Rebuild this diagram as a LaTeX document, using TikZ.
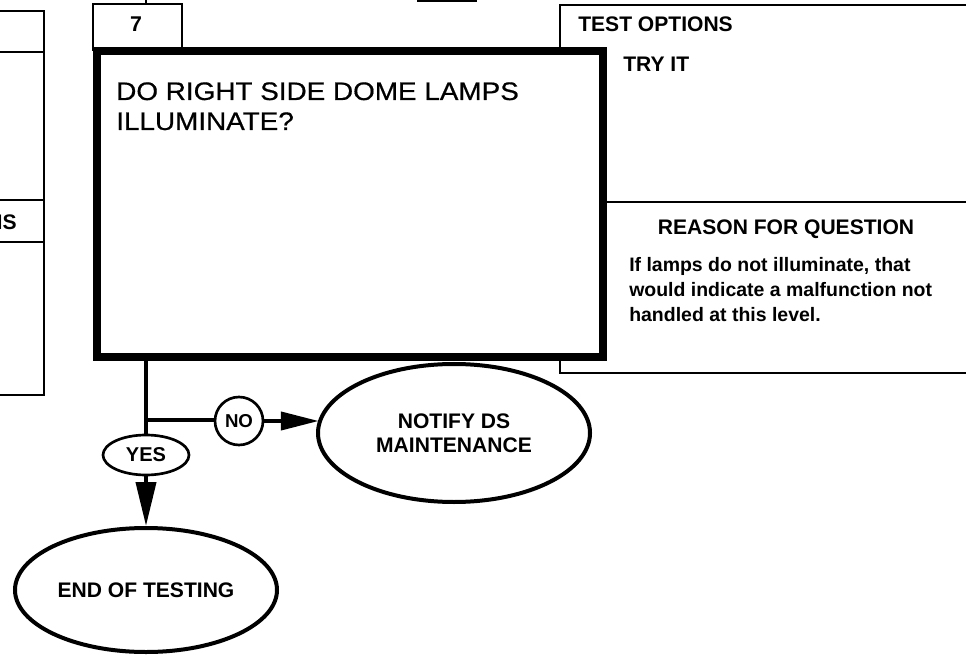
\documentclass[tikz,border=0pt]{standalone}
\usepackage{fontspec}
\setmainfont{Liberation Sans}
\newfontfamily\qfont[FakeStretch=1.1,FakeBold=0.6]{Liberation Sans}
\usetikzlibrary{shapes.geometric,arrows.meta}
\begin{document}
\begin{tikzpicture}[x=0.75pt,y=-0.75pt,
  box/.style={line width=1.8pt},
  conn/.style={line width=3pt},
  lbl/.style={font=\fontsize{15.8}{19}\selectfont\bfseries, inner sep=0pt},
  body/.style={font=\fontsize{14.6}{18}\selectfont\bfseries, inner sep=0pt, anchor=base west},
  qtext/.style={font=\qfont\fontsize{19}{22}\selectfont, inner sep=0pt, anchor=base west},
  oval/.style={ellipse, draw, fill=white, inner sep=0pt, align=center}]
\useasboundingbox (0,0) rectangle (966,655);
\begin{scope}
\clip (0,0) rectangle (966,655);
% left partial box
\draw[box] (-20,11) rectangle (44,395);
\draw[box] (-20,52) -- (44,52);
\draw[box] (-20,200) -- (44,200);
\draw[box] (-20,242) -- (44,242);
\node[lbl, anchor=base east] (lh) at (17,230) {NS};
% fragment at top
\draw[line width=2pt] (417,1) -- (477,1);
% right box
\draw[box] (560,5) rectangle (990,373);
\draw[box] (603,202) -- (990,202);
\node[lbl, anchor=base west] (to) at (578,32) {TEST OPTIONS};
\node[lbl, anchor=base west] (try) at (623,72) {TRY IT};
\node[lbl, anchor=base] (rq) at (786,235) {REASON FOR QUESTION};
\node[body] (b1) at (629,272) {If lamps do not illuminate, that};
\node[body] (b2) at (629,297) {would indicate a malfunction not};
\node[body] (b3) at (629,322) {handled at this level.};
% header 7
\node[draw, box, minimum width=66.75pt, minimum height=34.5pt, inner sep=0pt] (h7) at (137.5,27) {};
\node[lbl, anchor=base, font=\fontsize{16}{19}\selectfont\bfseries] (n7) at (136,32) {7};
\coordinate (top) at (146,-5);
\draw[box] (top) -- (top |- h7.north);
% main question box
\node[draw, line width=6pt, fill=white, minimum width=379.5pt, minimum height=229.5pt, inner sep=0pt] (q) at (350,204) {};
\node[qtext] (q1) at (116,100) {DO RIGHT SIDE DOME LAMPS};
\node[qtext] (q2) at (116,130) {ILLUMINATE?};
% ovals
\node[oval, line width=2pt, minimum width=64.5pt, minimum height=30pt, font=\fontsize{15}{18}\selectfont\bfseries] (yes) at (146,455) {YES};
\node[oval, line width=2pt, minimum width=36pt, minimum height=36pt, font=\fontsize{14}{17}\selectfont\bfseries] (no) at (239,421) {NO};
\node[oval, line width=3pt, minimum width=204pt, minimum height=103.5pt, font=\fontsize{15.8}{18}\selectfont\bfseries] (notify) at (454,433) {NOTIFY DS\\MAINTENANCE};
\node[oval, line width=3pt, minimum width=196.5pt, minimum height=93pt, font=\fontsize{15.8}{19}\selectfont\bfseries] (end) at (146,590) {END OF TESTING};
% connectors
\coordinate (br) at (146,420);
\draw[conn] (q.south -| yes.north) -- (yes.north);
\draw[conn] (br) -- (br -| no.west);
\draw[conn, -{Triangle[length=28.5pt,width=13.5pt]}] (no.east) -- (no.east -| notify.174);
\draw[conn, -{Triangle[length=33pt,width=15pt]}] (yes.south) -- (end.north);
\end{scope}
\end{tikzpicture}
\end{document}
